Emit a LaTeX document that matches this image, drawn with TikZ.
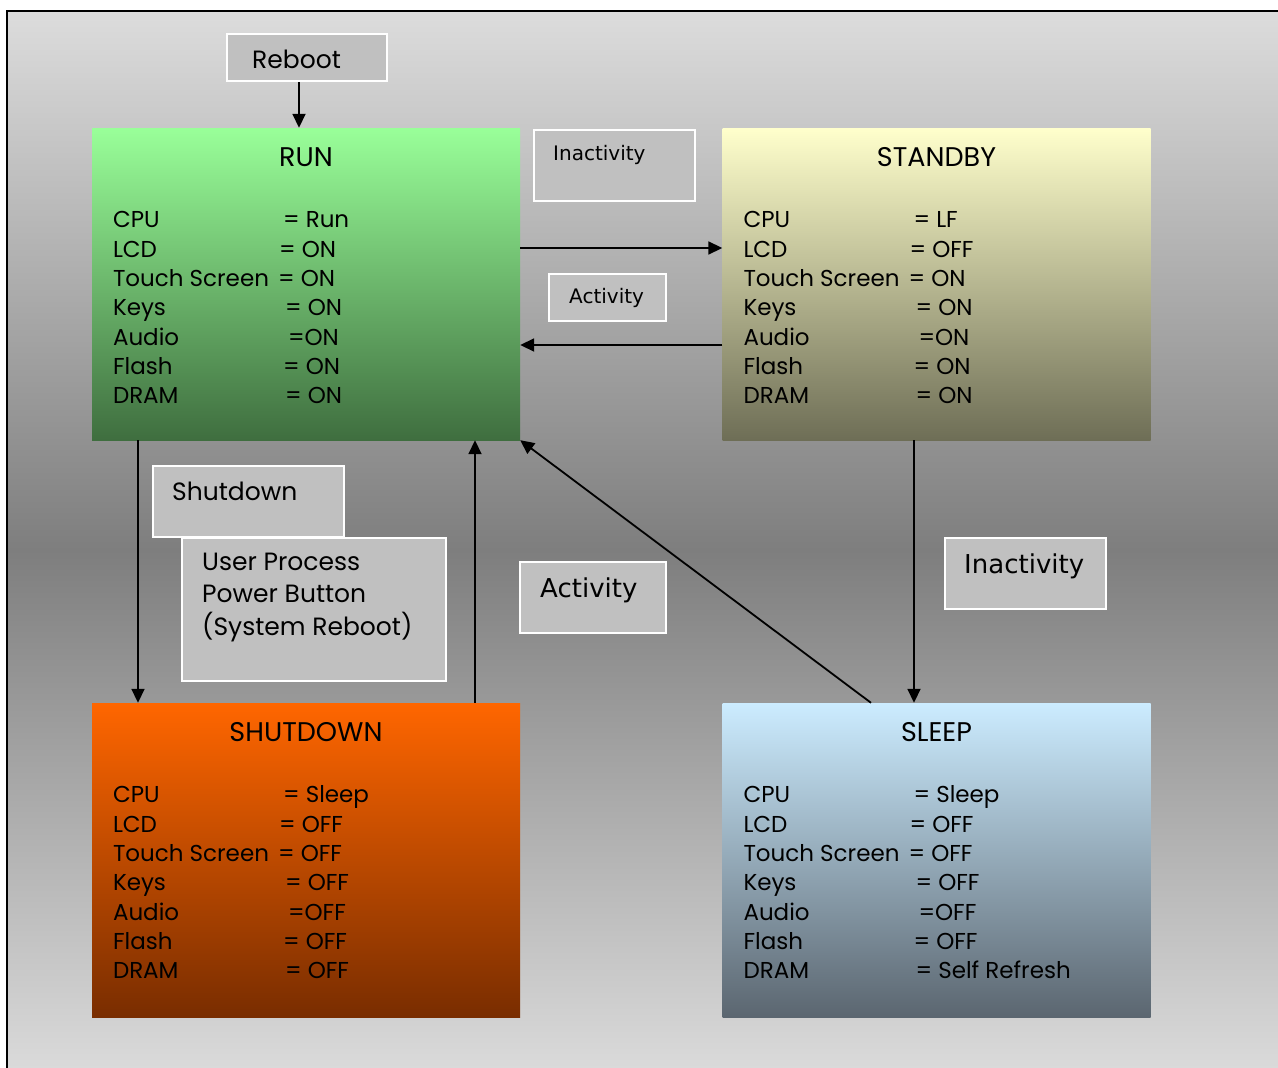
\documentclass[tikz,border=0pt]{standalone}
\usepackage{fontspec}
\setmainfont{Poppins}
\newfontfamily\labelfont{DejaVu Sans}
\usetikzlibrary{arrows.meta,positioning}

\definecolor{bgtop}{HTML}{DCDCDC}
\definecolor{bgupper}{HTML}{BEBEBE}
\definecolor{bgmid}{HTML}{7E7E7E}
\definecolor{bglower}{HTML}{ABABAB}
\definecolor{bgbottom}{HTML}{DADADA}
\definecolor{boxgray}{HTML}{C0C0C0}
\definecolor{runtop}{HTML}{99FF99}
\definecolor{runbot}{HTML}{3F6E3F}
\definecolor{stbytop}{HTML}{FFFFCC}
\definecolor{stbybot}{HTML}{6E6E56}
\definecolor{shuttop}{HTML}{FF6600}
\definecolor{shutbot}{HTML}{792D00}
\definecolor{sleeptop}{HTML}{CCECFF}
\definecolor{sleepbot}{HTML}{5B6670}

\tikzset{
  statebox/.style={rectangle, inner sep=0pt, minimum width=428pt, minimum height=312pt},
  labelbox/.style={rectangle, anchor=north west, fill=boxgray, draw=white, line width=2pt, inner sep=0pt},
  labeltxt/.style={anchor=base west, inner sep=0pt, font=\fontsize{25}{25}\selectfont},
  smalltxt/.style={anchor=base west, inner sep=0pt, font=\labelfont\fontsize{20}{20}\selectfont},
  bigtxt/.style={anchor=base west, inner sep=0pt, font=\labelfont\fontsize{26}{26}\selectfont},
  rowtxt/.style={anchor=base west, inner sep=0pt, font=\fontsize{23}{23}\selectfont},
  titletxt/.style={anchor=base, inner sep=0pt, font=\fontsize{27}{27}\selectfont},
  arr/.style={line width=1.8pt, -{Triangle[length=14pt,width=13pt]}},
}

%% title and the seven rows of a state box
\newcommand{\staterows}[9]{%
  \node[titletxt] at ([yshift=-39pt]#1.north) {#2};
  \foreach \lab/\dx/\val [count=\i] in {CPU/170/#3, LCD/166/#4, Touch Screen/165/#5,
      Keys/172/#6, Audio/175/#7, Flash/170/#8, DRAM/172/#9} {
    \node[rowtxt] at ([xshift=21pt, yshift={-100pt-(\i-1)*29.3pt}]#1.north west) {\lab};
    \node[rowtxt] at ([xshift={(21+\dx)*1pt}, yshift={-100pt-(\i-1)*29.3pt}]#1.north west) {\val};
  }%
}

\begin{document}
\begin{tikzpicture}[x=1pt, y=-1pt]
\useasboundingbox (0,0) rectangle (1278,1068);
%% background
\fill[white] (0,0) rectangle (1278,1068);
\shade[top color=bgtop, middle color=bgupper, bottom color=bgmid] (8,12) rectangle (1278,550);
\shade[top color=bgmid, middle color=bglower, bottom color=bgbottom] (8,550) rectangle (1278,1068);
\draw[line width=2.5pt] (7,1068) -- (7,11) -- (1278,11);

%% states
\node[statebox, top color=runtop, bottom color=runbot] (run) at (306,284) {};
\node[statebox, top color=stbytop, bottom color=stbybot] (standby) at (936.5,284) {};
\node[statebox, minimum height=314pt, top color=shuttop, bottom color=shutbot] (shutdown) at (306,860) {};
\node[statebox, minimum height=314pt, top color=sleeptop, bottom color=sleepbot] (sleep) at (936.5,860) {};

\staterows{run}{RUN}{= Run}{= ON}{= ON}{= ON}{=ON}{= ON}{= ON}
\staterows{standby}{STANDBY}{= LF}{= OFF}{= ON}{= ON}{=ON}{= ON}{= ON}
\staterows{shutdown}{SHUTDOWN}{= Sleep}{= OFF}{= OFF}{= OFF}{=OFF}{= OFF}{= OFF}
\staterows{sleep}{SLEEP}{= Sleep}{= OFF}{= OFF}{= OFF}{=OFF}{= OFF}{= Self Refresh}

%% labels
\node[labelbox, minimum width=160pt, minimum height=47pt] (reboot) at (226,33) {};
\node[labeltxt] at ([xshift=26pt, yshift=-35pt]reboot.north west) {Reboot};
\node[labelbox, minimum width=161pt, minimum height=71pt] (inact1) at (533,129) {};
\node[smalltxt] at ([xshift=20pt, yshift=-31pt]inact1.north west) {Inactivity};
\node[labelbox, minimum width=117pt, minimum height=47pt] (act1) at (548,273) {};
\node[smalltxt] at ([xshift=21pt, yshift=-30pt]act1.north west) {Activity};
\node[labelbox, minimum width=191pt, minimum height=71pt] (shut) at (152,465) {};
\node[labeltxt] at ([xshift=20pt, yshift=-35pt]shut.north west) {Shutdown};
\node[labelbox, minimum width=264pt, minimum height=143pt] (userproc) at (181,537) {};
\node[labeltxt] at ([xshift=21pt, yshift=-33pt]userproc.north west) {User Process};
\node[labeltxt] at ([xshift=21pt, yshift=-65.5pt]userproc.north west) {Power Button};
\node[labeltxt] at ([xshift=21pt, yshift=-98pt]userproc.north west) {(System Reboot)};
\node[labelbox, minimum width=146pt, minimum height=71pt] (act2) at (519,561) {};
\node[bigtxt] at ([xshift=21pt, yshift=-36pt]act2.north west) {Activity};
\node[labelbox, minimum width=161pt, minimum height=71pt] (inact2) at (944,537) {};
\node[bigtxt] at ([xshift=20pt, yshift=-36pt]inact2.north west) {Inactivity};

%% transitions
\draw[arr] ([xshift=-8pt]reboot.south) -- ([xshift=-8pt]reboot.south |- run.north);
\draw[arr] (run.east |- 0,248) -- (standby.west |- 0,248);
\draw[arr] (standby.west |- 0,345) -- (run.east |- 0,345);
\draw[arr] (run.south -| 138,0) -- (shutdown.north -| 138,0);
\draw[arr] (shutdown.north -| 475,0) -- (run.south -| 475,0);
\draw[arr] (sleep.north -| 871,0) -- (run.south east);
\draw[arr] (standby.south -| 914,0) -- (sleep.north -| 914,0);
\end{tikzpicture}
\end{document}
